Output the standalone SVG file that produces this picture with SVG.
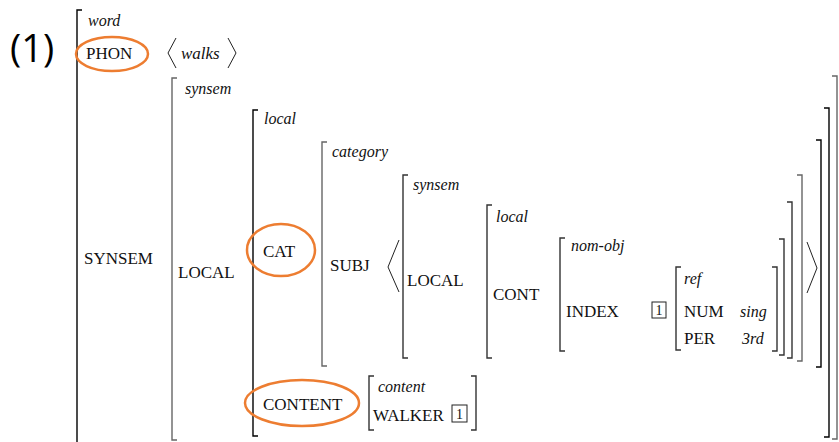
<svg xmlns="http://www.w3.org/2000/svg" width="839" height="442" viewBox="0 0 839 442">
  <style>
    .lbl { font-size: 17px; fill: #111; }
    .typ { font-size: 16px; font-style: italic; fill: #111; }
    .num { font-family: 'Open Sans', 'Liberation Sans', sans-serif; font-size: 38px; fill: #000; }
    .brk { fill: none; stroke: #333; stroke-width: 1.4; }
    .brk-dark { fill: none; stroke: #000; stroke-width: 1.4; }
    .brk-grey { fill: none; stroke: #666; stroke-width: 1.4; }
    .ang { fill: none; stroke: #222; stroke-width: 1; }
    .tag { fill: #fff; stroke: #222; stroke-width: 1; }
    .tagtxt { font-size: 14px; fill: #111; text-anchor: middle; }
    .hl { fill: none; stroke: #ED7D31; stroke-width: 2.5; }
  </style>

  <!-- example number -->
  <text class="num" x="10" y="62">(1)</text>

  <!-- the whole feature structure is set in a Times-metric serif -->
  <g font-family="Liberation Serif, DejaVu Serif, serif">

  <!-- word -->
  <g id="avm-word">
    <path class="brk-dark" d="M82,10 H77 V442"/>
    <text class="typ" x="88" y="26">word</text>
    <text class="lbl" x="86" y="59">PHON</text>
    <ellipse class="hl" cx="112" cy="54" rx="36" ry="17"/>
    <path class="ang" d="M176,38 L168,53 L176,68"/>
    <text class="typ" x="181" y="59" style="font-size:17px">walks</text>
    <path class="ang" d="M228,38 L236,53 L228,68"/>
    <text class="lbl" x="84" y="264">SYNSEM</text>
  </g>

  <!-- synsem -->
  <g id="avm-synsem">
    <path class="brk-grey" d="M177,78 H172 V440 H177"/>
    <path class="brk-grey" d="M832,76 H837 V439 H832"/>
    <text class="typ" x="185" y="94">synsem</text>
    <text class="lbl" x="178" y="278">LOCAL</text>
  </g>

  <!-- local -->
  <g id="avm-local">
    <path class="brk-dark" d="M258,110 H253 V436 H258"/>
    <path class="brk-dark" d="M824,108 H829 V437 H824"/>
    <text class="typ" x="264" y="124">local</text>
    <text class="lbl" x="263" y="257">CAT</text>
    <ellipse class="hl" cx="281" cy="250" rx="34" ry="26"/>
    <text class="lbl" x="263" y="410">CONTENT</text>
    <ellipse class="hl" cx="302" cy="403" rx="57" ry="23"/>
  </g>

  <!-- category -->
  <g id="avm-category">
    <path class="brk-grey" d="M327,142 H322 V366 H327"/>
    <path class="brk-dark" d="M816,140 H821 V367 H816"/>
    <text class="typ" x="332" y="157">category</text>
    <text class="lbl" x="330" y="271">SUBJ</text>
    <path class="ang" d="M399,240 L388,267 L399,292"/>
    <path class="ang" d="M807,242 L817,268 L807,293"/>
  </g>

  <!-- subject synsem -->
  <g id="avm-subj-synsem">
    <path class="brk" d="M408,175 H403 V358 H408"/>
    <path class="brk-grey" d="M797,175 H802 V361 H797"/>
    <text class="typ" x="413" y="190">synsem</text>
    <text class="lbl" x="407" y="286">LOCAL</text>
  </g>

  <!-- subject local -->
  <g id="avm-subj-local">
    <path class="brk" d="M492,205 H487 V358 H492"/>
    <path class="brk" d="M787,202 H792 V358 H787"/>
    <text class="typ" x="496" y="222">local</text>
    <text class="lbl" x="493" y="300">CONT</text>
  </g>

  <!-- nom-obj -->
  <g id="avm-nom-obj">
    <path class="brk" d="M565,238 H560 V351 H565"/>
    <path class="brk" d="M779,239 H784 V355 H779"/>
    <text class="typ" x="571" y="251">nom-obj</text>
    <text class="lbl" x="566" y="317">INDEX</text>
    <rect class="tag" x="652" y="302" width="14" height="16"/>
    <text class="tagtxt" x="659" y="315">1</text>
  </g>

  <!-- ref -->
  <g id="avm-ref">
    <path class="brk" d="M681,267 H676 V350 H681"/>
    <path class="brk" d="M772,267 H777 V351 H772"/>
    <text class="typ" x="684" y="284">ref</text>
    <text class="lbl" x="684" y="317">NUM</text>
    <text class="typ" x="740" y="317">sing</text>
    <text class="lbl" x="684" y="344">PER</text>
    <text class="typ" x="742" y="344">3rd</text>
  </g>

  <!-- content -->
  <g id="avm-content">
    <path class="brk" d="M374,376 H369 V430 H374"/>
    <path class="brk" d="M471,376 H476 V430 H471"/>
    <text class="typ" x="378" y="392">content</text>
    <text class="lbl" x="373" y="421">WALKER</text>
    <rect class="tag" x="452" y="405" width="15" height="17"/>
    <text class="tagtxt" x="459.5" y="419">1</text>
  </g>

  </g>
</svg>
